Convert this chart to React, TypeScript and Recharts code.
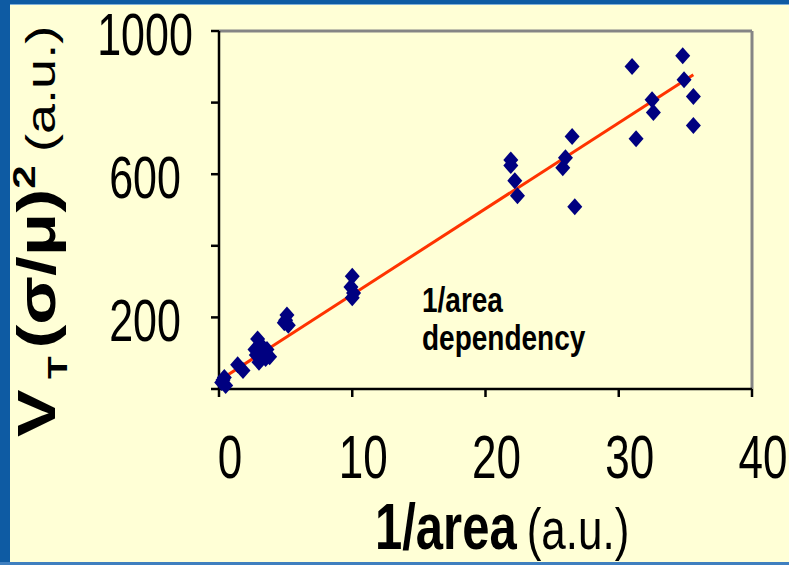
import React from 'react';
import { ComposedChart, Scatter, Line, XAxis, YAxis, ReferenceLine, Label } from 'recharts';

// Measured points (1/area, V_T (σ/μ)^2)
const xValues = [
  0.2, 0.4, 0.5, 0.3,
  1.4, 1.8,
  2.7, 2.9, 3.1, 3.3, 3.0, 3.5, 3.8, 2.8, 3.2, 3.6,
  5.1, 5.0, 5.2, 4.9,
  10.0, 9.9, 10.1, 10.0,
  21.9, 21.9, 22.2, 22.4,
  26.5, 26.0, 25.8, 26.7,
  31.0, 31.3, 32.5, 32.6, 34.8, 34.9, 35.6, 35.6,
];
const yValues = [
  18, 32, 10, 25,
  68, 52,
  110, 140, 125, 105, 75, 85, 90, 95, 95, 110,
  207, 192, 178, 185,
  315, 285, 268, 255,
  640, 624, 582, 540,
  705, 646, 618, 509,
  901, 699, 808, 772, 931, 864, 817, 736,
];
// Linear fit end points
const fitX = [0.3, 35.6];
const fitY = [31, 878];

const xTicks = [0, 10, 20, 30, 40];
const yTicks = [0, 200, 400, 600, 800, 1000];
const yTickLabels = [200, 600, 1000];
const annotationLines = ['1/area', 'dependency'];

const points = xValues.map((x, i) => ({ x, y: yValues[i] }));
const fitLine = fitX.map((x, i) => ({ x, y: fitY[i] }));

const FONT = '"Liberation Sans", Arial, sans-serif';
const BG = '#FFFFD6';
const BLUE = '#0E5BA3';

const Diamond = (props: any) => {
  const { cx, cy } = props;
  if (cx == null || cy == null) return <g />;
  return (
    <polygon
      points={`${cx},${cy - 8.5} ${cx + 7.5},${cy} ${cx},${cy + 8.5} ${cx - 7.5},${cy}`}
      fill="#000080"
    />
  );
};

const YTick = (props: any) => {
  const { y, payload } = props;
  if (!yTickLabels.includes(payload.value)) return <g />;
  return (
    <text
      transform={`translate(145, ${y + 24}) scale(1, 1.36)`}
      textAnchor="middle"
      fontSize={43}
      fontFamily={FONT}
      fill="#000"
    >
      {payload.value}
    </text>
  );
};

const XTick = (props: any) => {
  const { x, payload } = props;
  return (
    <text
      transform={`translate(${x + 11}, 478) scale(1, 1.38)`}
      textAnchor="middle"
      fontSize={44}
      fontFamily={FONT}
      fill="#000"
    >
      {payload.value}
    </text>
  );
};

const XTitle = () => (
  <g>
    <text
      transform="translate(375, 549) scale(1, 1.32)"
      fontFamily={FONT}
      fill="#000"
    >
      <tspan fontSize={49} fontWeight="bold">1/area</tspan>
      <tspan fontSize={44} dx={10}>(a.u.)</tspan>
    </text>
    <text
      transform="translate(422, 312) scale(1, 1.28)"
      fontFamily={FONT}
      fontSize={28}
      fontWeight="bold"
      fill="#000"
    >
      {annotationLines[0]}
    </text>
    <text
      transform="translate(422, 350) scale(1, 1.28)"
      fontFamily={FONT}
      fontSize={28}
      fontWeight="bold"
      fill="#000"
    >
      {annotationLines[1]}
    </text>
  </g>
);

const YTitle = () => (
  <text
    transform="translate(55, 437) rotate(-90) scale(1.32, 1)"
    fontFamily={FONT}
    fill="#000"
  >
    <tspan fontSize={54} fontWeight="bold">V</tspan>
    <tspan fontSize={28} fontWeight="bold" dy={12} dx={8}>T</tspan>
    <tspan fontSize={54} fontWeight="bold" dy={-12} dx={6}>(σ/μ)</tspan>
    <tspan fontSize={32} fontWeight="bold" dy={-20}>2</tspan>
    <tspan fontSize={41} dy={20} dx={10}>(a.u.)</tspan>
  </text>
);

export default function App() {
  return (
    <div
      style={{
        position: 'absolute',
        left: 0,
        top: 0,
        width: 789,
        height: 565,
        background: BG,
        overflow: 'hidden',
      }}
    >
      <div style={{ position: 'absolute', left: 0, top: 0, width: 789, height: 4, background: BLUE }} />
      <div style={{ position: 'absolute', left: 0, top: 4, width: 789, height: 1, background: '#7FB0D8' }} />
      <div style={{ position: 'absolute', left: 0, top: 0, width: 10, height: 565, background: BLUE }} />
      <div style={{ position: 'absolute', left: 0, top: 562, width: 789, height: 3, background: '#3F7FBF' }} />
      <div style={{ position: 'absolute', left: 0, top: 0 }}>
        <ComposedChart
          width={789}
          height={565}
          margin={{ top: 31, right: 37, bottom: 76, left: 119 }}
        >
          <XAxis
            type="number"
            dataKey="x"
            domain={[0, 40]}
            ticks={xTicks}
            interval={0}
            height={100}
            axisLine={{ stroke: '#000', strokeWidth: 2.5 }}
            tickLine={{ stroke: '#000', strokeWidth: 2.5 }}
            tickSize={8}
            tick={<XTick />}
          >
            <Label content={() => <XTitle />} />
          </XAxis>
          <YAxis
            type="number"
            dataKey="y"
            domain={[0, 1000]}
            ticks={yTicks}
            interval={0}
            width={100}
            axisLine={{ stroke: '#000', strokeWidth: 2.5 }}
            tickLine={{ stroke: '#000', strokeWidth: 2.5 }}
            tickSize={8}
            tick={<YTick />}
          >
            <Label content={() => <YTitle />} />
          </YAxis>
          <ReferenceLine y={1000} stroke="#858585" strokeWidth={3} ifOverflow="visible" />
          <ReferenceLine x={40} stroke="#858585" strokeWidth={3} ifOverflow="visible" />
          <Scatter
            data={points}
            dataKey="y"
            shape={<Diamond />}
            isAnimationActive={false}
          />
          <Line
            data={fitLine}
            dataKey="y"
            type="linear"
            stroke="#FF3300"
            strokeWidth={3}
            dot={false}
            activeDot={false}
            isAnimationActive={false}
          />
        </ComposedChart>
      </div>
    </div>
  );
}
